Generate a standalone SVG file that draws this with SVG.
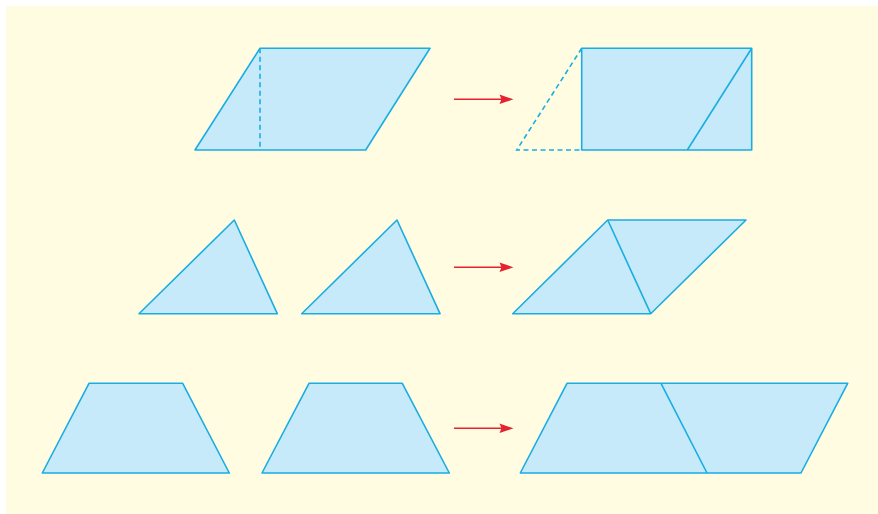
<svg xmlns="http://www.w3.org/2000/svg" width="878" height="514" viewBox="0 0 878 514">
<style>
.shape{fill:#c6eaf9;stroke:#19ade3;stroke-width:1.6;stroke-linejoin:round}
.ln{fill:none;stroke:#19ade3;stroke-width:1.6}
.dash{fill:none;stroke:#19ade3;stroke-width:1.6;stroke-dasharray:5,3.5}
.arr{stroke:#e52330;stroke-width:1.6;fill:none}
.head{fill:#e52330}
</style>
<rect x="0" y="0" width="878" height="514" fill="#ffffff"/>
<rect x="6" y="6" width="872" height="508" fill="#fffce1"/>
<g id="row1-left">
<polygon class="shape" points="260,48.3 430,48.3 365.7,150 195,150"/>
<line class="dash" x1="260" y1="48.3" x2="260" y2="150"/>
</g>
<g id="row1-right">
<polygon class="shape" points="581.7,48.3 751.7,48.3 751.7,150 581.7,150"/>
<line class="ln" x1="687.3" y1="150" x2="751.7" y2="48.3"/>
<polyline class="dash" points="581.7,48.3 516.7,150 581.7,150"/>
</g>
<g id="row2-tri1">
<polygon class="shape" points="139,313.7 234.3,220 277.3,313.7"/>
</g>
<g id="row2-tri2">
<polygon class="shape" points="301.7,313.7 397,220 440,313.7"/>
</g>
<g id="row2-right">
<polygon class="shape" points="512.7,313.7 607.7,220 746,220 650.7,313.7"/>
<line class="ln" x1="607.7" y1="220" x2="650.7" y2="313.7"/>
</g>
<g id="row3-trap1">
<polygon class="shape" points="42.3,473 89,383.3 182.7,383.3 229.3,473"/>
</g>
<g id="row3-trap2">
<polygon class="shape" points="262,473 309,383.3 402.3,383.3 449.3,473"/>
</g>
<g id="row3-right">
<polygon class="shape" points="520.3,473 567,383.3 847.7,383.3 801,473"/>
<line class="ln" x1="661" y1="383.3" x2="707" y2="473"/>
</g>
<g id="connectors">
<line class="arr" x1="454" y1="99.3" x2="502" y2="99.3"/>
<polygon class="head" points="513.5,99.3 499.5,94.6 501.5,99.3 499.5,104"/>
<line class="arr" x1="454" y1="267.3" x2="502" y2="267.3"/>
<polygon class="head" points="513.5,267.3 499.5,262.6 501.5,267.3 499.5,272"/>
<line class="arr" x1="454" y1="428.3" x2="502" y2="428.3"/>
<polygon class="head" points="513.5,428.3 499.5,423.6 501.5,428.3 499.5,433"/>
</g>
</svg>
